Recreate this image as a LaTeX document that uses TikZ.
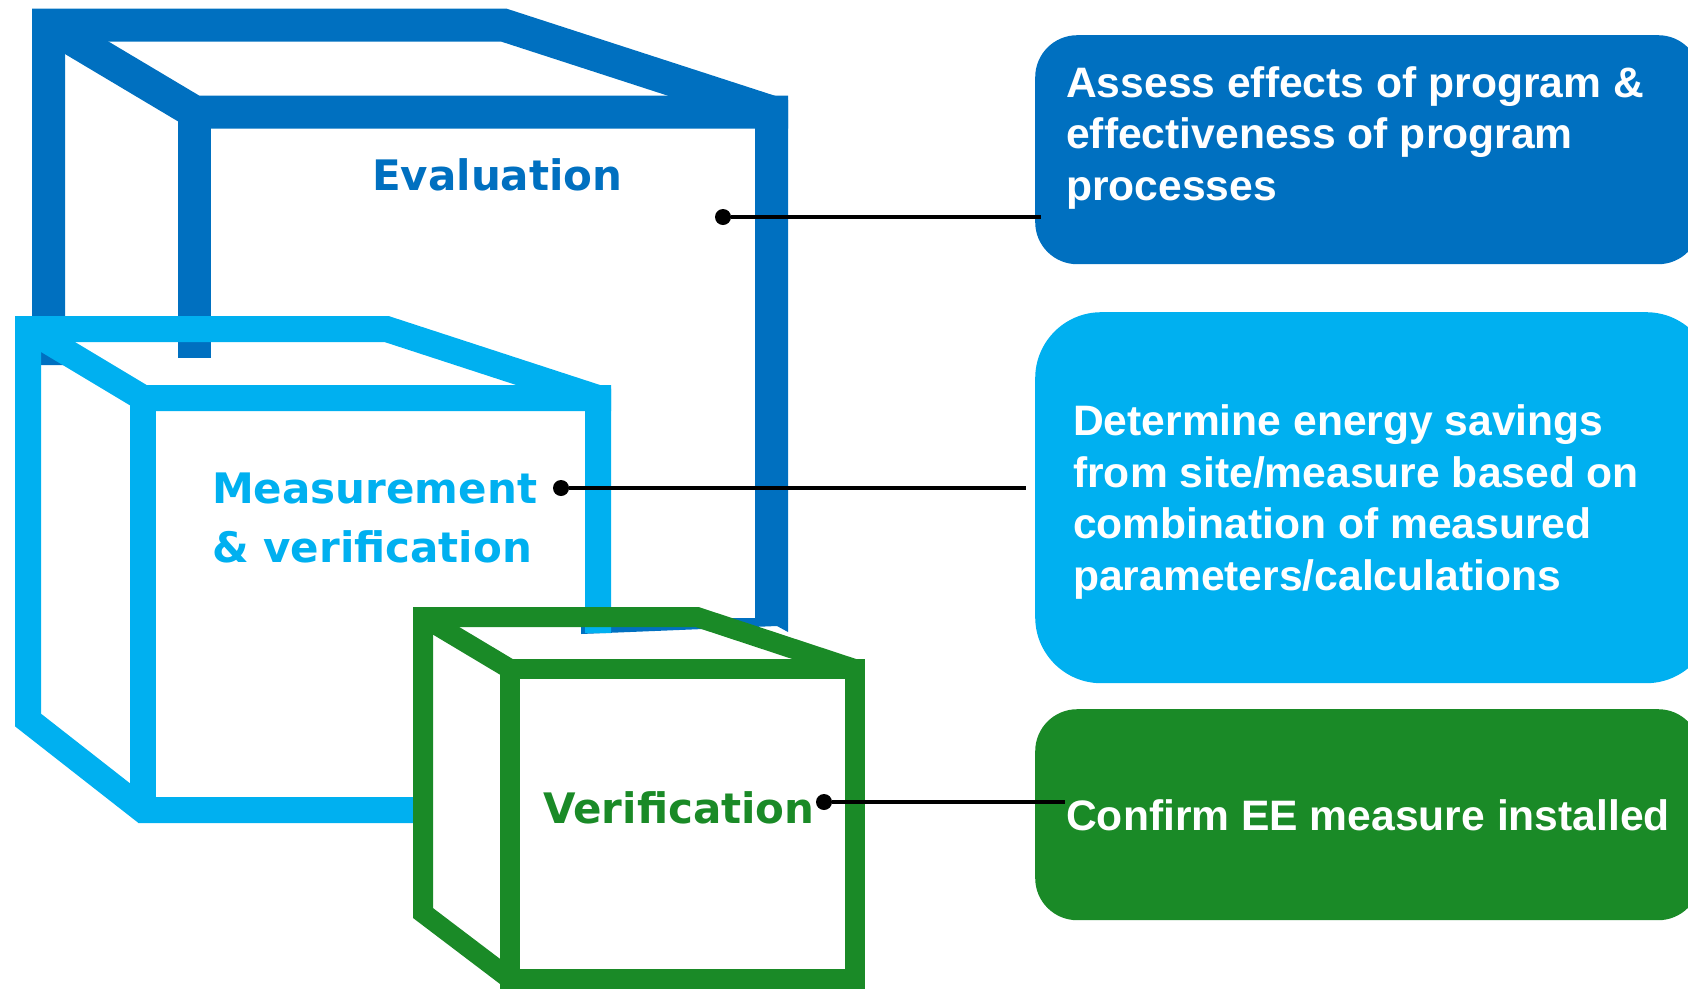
\documentclass[tikz,border=0pt]{standalone}
\usepackage{fontspec}
\setmainfont{Liberation Sans}
\newfontfamily\cubefont{DejaVu Sans}
\usetikzlibrary{positioning}

\definecolor{evblue}{RGB}{0,112,192}
\definecolor{mvblue}{RGB}{0,176,240}
\definecolor{vgreen}{RGB}{26,138,39}

\tikzset{
    evline/.style={draw=evblue, line width=33pt},
    mvline/.style={draw=mvblue, line width=26pt},
    grline/.style={draw=vgreen, line width=20pt},
    cubelabel/.style={inner sep=0pt, anchor=base west, align=left, font=\cubefont\bfseries\fontsize{42}{59}\selectfont},
    boxtext/.style={inner sep=0pt, anchor=base west, align=left, text=white, font=\bfseries\fontsize{42.6}{51.5}\selectfont},
    infobox/.style={rounded corners=#1, inner sep=0pt, anchor=north west},
    dot/.style={circle, fill=black, inner sep=0pt, minimum size=16pt},
    link/.style={line width=3.5pt}
}

\begin{document}
\begin{tikzpicture}[x=1pt,y=-1pt]
        \useasboundingbox (0,0) rectangle (1688,989);
        \clip (0,0) rectangle (1688,989);

        \draw[evline] (48.5,365) -- (48.5,25) -- (503.5,25) -- (771.5,112) -- (771.5,618);
        \draw[evline] (48.5,25) -- (194.5,112) -- (788,112);
        \draw[evline] (194.5,112) -- (194.5,358);
        \fill[evblue] (581,618) -- (788,618) -- (788,632) -- (777,626) -- (581,634) -- cycle;

        \draw[mvline] (423,810) -- (143,810) -- (28,720) -- (28,329) -- (386.5,329) -- (598,398) -- (598,633);
        \draw[mvline] (28,329) -- (143,398) -- (611,398);
        \draw[mvline] (143,398) -- (143,810);

        \draw[grline] (510,669) rectangle (854.5,979);
        \draw[grline] (510,979) -- (423,913) -- (423,617) -- (697,617) -- (854.5,669);
        \draw[grline] (423,617) -- (510,669);

        \node[cubelabel, text=evblue] (evlabel) at (372,190) {Evaluation};
        \node[cubelabel, text=mvblue] (mvlabel) at (212,562) {Measurement\\\& verification};
        \node[cubelabel, text=vgreen] (vlabel) at (543,823) {Verification};

        \node[infobox=42pt, fill=evblue, minimum width=665pt, minimum height=229pt] (evbox) at (1035,35) {};
        \node[infobox=66pt, fill=mvblue, minimum width=677pt, minimum height=371pt] (mvbox) at (1035,312) {};
        \node[infobox=42pt, fill=vgreen, minimum width=665pt, minimum height=211pt] (vbox) at (1035,709) {};

        \node[boxtext] (evtext) at (1066,200) {Assess effects of program \&\\effectiveness of program\\processes};
        \node[boxtext] (mvtext) at (1073,590) {Determine energy savings\\from site/measure based on\\combination of measured\\parameters/calculations};
        \node[boxtext] (vtext) at (1066,830) {Confirm EE measure installed};

        \node[dot] (evdot) at (723,217) {};
        \node[dot] (mvdot) at (561,488) {};
        \node[dot] (vdot) at (824,802) {};
        \coordinate (evend) at (1041,217);
        \coordinate (mvend) at (1026,488);
        \coordinate (vend) at (1065,802);
        \path[link]
            (evdot) edge (evend)
            (mvdot) edge (mvend)
            (vdot) edge (vend);
    \end{tikzpicture}
\end{document}
